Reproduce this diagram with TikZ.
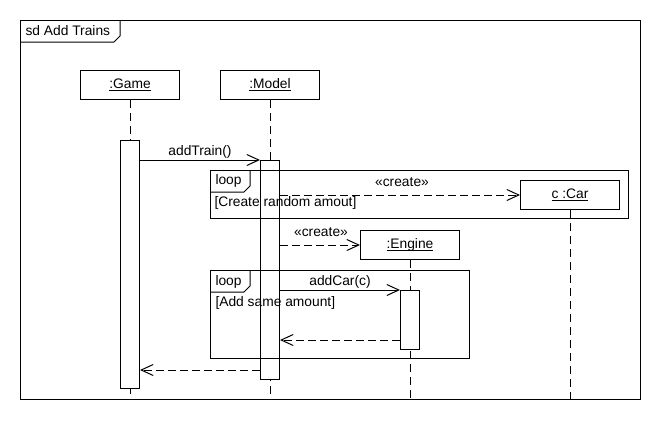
\documentclass[tikz,border=0pt]{standalone}
\usepackage{fontspec}
\setmainfont{Liberation Sans}
\usetikzlibrary{arrows.meta}
\newcommand{\ul}[1]{{\setbox0\hbox{#1}\rlap{\vrule height -1.6pt depth 2.6pt width \wd0}\box0}}
\begin{document}
\begin{tikzpicture}[x=1pt,y=-1pt,line width=1pt,
  every node/.style={font=\fontsize{13.8}{16}\selectfont, inner sep=0pt},
  obj/.style={draw, fill=white, minimum width=99pt, minimum height=29pt, anchor=north west},
  act/.style={draw, fill=white, minimum width=19pt, anchor=north west},
  life/.style={dash pattern=on 8pt off 5pt},
  msg/.style={-{Straight Barb[length=12pt,width=11pt]}},
  ret/.style={msg, dash pattern=on 8pt off 4pt},
  txt/.style={anchor=center}]
\useasboundingbox (0,0) rectangle (660,440);
\fill[white] (0,0) rectangle (660,440);
% outer frame
\draw (20,20) rectangle (640,399);
\draw (20,42) -- (114,42) -- (120,36) -- (120,20);
\node[anchor=west] (title) at (25,31) {sd Add Trains};
% objects (positions)
\coordinate (gameTL) at (80,70);
\coordinate (modelTL) at (220,70);
\coordinate (carTL) at (520,180);
\coordinate (engTL) at (360,230);
\node[obj] (game) at (gameTL) {\ul{:Game}};
\node[obj] (model) at (modelTL) {\ul{:Model}};
\node[obj] (car) at (carTL) {\ul{c :Car}};
\node[obj] (eng) at (engTL) {\ul{:Engine}};
\coordinate (bottom) at (0,399);
% lifelines
\draw[life] (game.south) -- (game.south |- bottom);
\draw[life] (model.south) -- (model.south |- bottom);
\draw[life] (car.south) -- (car.south |- bottom);
\draw[life] (eng.south) -- (eng.south |- bottom);
% activations
\node[act, minimum height=248pt] (gact) at (120,140) {};
\node[act, minimum height=219pt] (mact) at (260,160) {};
\node[act, minimum height=59pt] (eact) at (400,290) {};
% loop frames
\draw (210,170) rectangle (628,218);
\draw (210,192) -- (244,192) -- (250,186) -- (250,170);
\node[anchor=west] (loop1) at (215,181) {loop};
\node[anchor=west] (guard1) at (214,203) {[Create random amout]};
\draw (210,270) rectangle (469,358);
\draw (210,292) -- (244,292) -- (250,286) -- (250,270);
\node[anchor=west] (loop2) at (215,282) {loop};
\node[anchor=west] (guard2) at (215,303) {[Add same amount]};
% messages
\draw[msg] (gact.north east |- mact.north) -- (mact.north west);
\node (l1) at (200,152) {addTrain()};
\draw[msg, dash pattern=on 8pt off 4pt] (mact.east |- car.west) -- (car.west);
\node (l2) at (402,182) {«create»};
\draw[msg, dash pattern=on 8pt off 4pt] (mact.east |- eng.west) -- (eng.west);
\node (l3) at (321,232) {«create»};
\draw[msg] (mact.east |- eact.north) -- (eact.north west);
\node (l4) at (340,282) {addCar(c)};
\coordinate (r1) at (0,340);
\draw[ret] (eact.west |- r1) -- (mact.east |- r1);
\coordinate (r2) at (0,370);
\draw[ret] (mact.west |- r2) -- (gact.east |- r2);
\end{tikzpicture}
\end{document}
